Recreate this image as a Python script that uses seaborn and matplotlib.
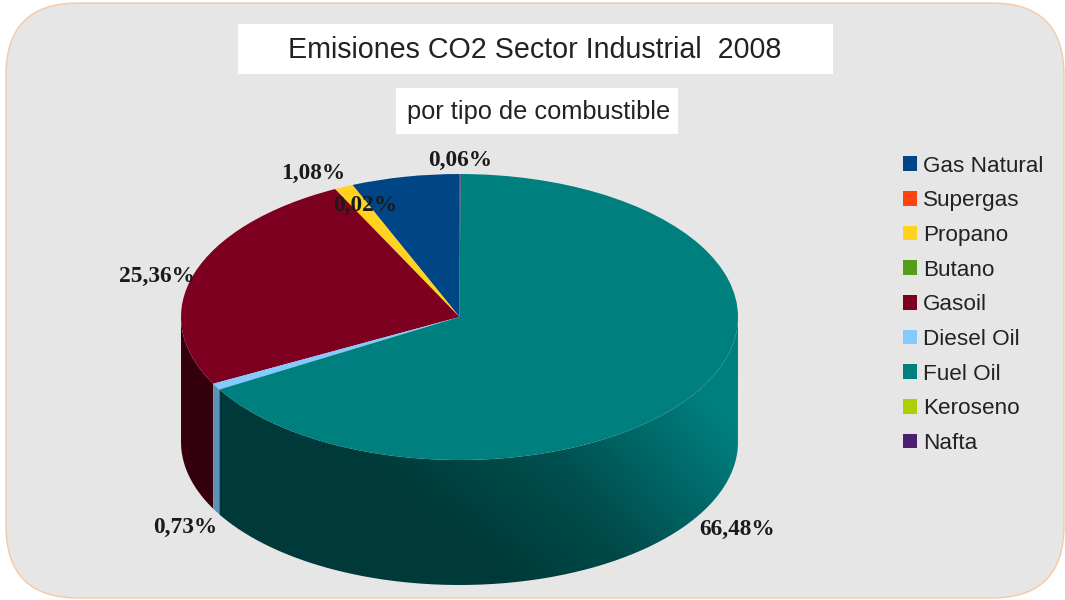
import numpy as np
import matplotlib
matplotlib.use("Agg")
import matplotlib.pyplot as plt
from matplotlib.patches import FancyBboxPatch, PathPatch, Rectangle
from matplotlib.path import Path
from matplotlib.colors import to_rgb
import seaborn as sns

# ---------- data ----------
categories = ["Gas Natural", "Supergas", "Propano", "Butano", "Gasoil",
              "Diesel Oil", "Fuel Oil", "Keroseno", "Nafta"]
values = [6.27, 0.02, 1.08, 0.0, 25.36, 0.73, 66.48, 0.0, 0.06]
palette = ["#004586", "#ff420e", "#ffd320", "#579d1c", "#7e0021",
           "#83caff", "#007f7f", "#aecf00", "#4b1f6f"]
side_floor = [0.45, 0.45, 0.45, 0.45, 0.42, 0.72, 0.45, 0.45, 0.45]
title = "Emisiones CO2 Sector Industrial  2008"
subtitle = "por tipo de combustible"
pct_labels = ["0,06%", "1,08%", "0,02%", "25,36%", "0,73%", "66,48%"]
pct_x = [460, 313, 365, 157, 185, 737]
pct_y = [160.5, 173, 205, 276.5, 527.5, 529.5]

# ---------- layout (pixels) ----------
W, H = 1065, 600
CX, CY, RX, RY, DEPTH = 459.5, 317.0, 278.5, 143.0, 125.0

sns.set_theme(style="white")
plt.rcParams["font.family"] = ["Liberation Sans", "DejaVu Sans"]
colors = sns.color_palette(palette)

fig = plt.figure(figsize=(W / 100, H / 100), dpi=100, facecolor="white")


def pixel_axes(z):
    a = fig.add_axes([0, 0, 1, 1], zorder=z)
    a.set_xlim(0, W)
    a.set_ylim(H, 0)
    a.axis("off")
    return a


bg = pixel_axes(0)
bg.add_patch(FancyBboxPatch((6 + 72, 3 + 72), W - 1 - 6 - 144, 595 - 144,
                            boxstyle="round,pad=72,rounding_size=72",
                            fc="#e6e6e6", ec="#f6c9a2", lw=1.0))
bg.add_patch(Rectangle((238, 24), 595, 50, fc="white", ec="none"))
bg.add_patch(Rectangle((396, 88), 282, 46, fc="white", ec="none"))
bg.text(535, 50, title, ha="center", va="center", fontsize=20.6, color="#222222")
bg.text(539, 112, subtitle, ha="center", va="center", fontsize=18.3, color="#222222")

# ---------- pie: unit circle stretched to the ellipse ----------
ax = fig.add_axes([0, 0, 1, 1], zorder=1)
ax.patch.set_alpha(0)
wedges, _ = ax.pie(values, colors=colors, startangle=90, counterclock=True,
                   radius=1.0, wedgeprops={"linewidth": 0})
for w in wedges:
    w.set_zorder(5)
depth = DEPTH / RY

gx, gy = np.meshgrid(np.linspace(-1.02, 1.02, 600), np.linspace(-1 - depth - .02, .02, 400))
shade = 0.695 + 0.25 * gx + 0.157 * gy
# brighten quickly towards the right-hand rim
shade = shade + 0.26 * np.clip(gx + gy * 0.35, 0, 1)

for w, col, floor in zip(wedges, colors, side_floor):
    lo, hi = max(w.theta1, 180), min(w.theta2, 360)
    if hi <= lo:
        continue
    t = np.radians(np.linspace(lo, hi, 240))
    xs = np.r_[np.cos(t), np.cos(t[::-1])]
    ys = np.r_[np.sin(t), np.sin(t[::-1]) - depth]
    clip = PathPatch(Path(np.c_[xs, ys]), transform=ax.transData, fc="none", ec="none")
    ax.add_patch(clip)
    s = np.clip(shade, floor, 1.0)[..., None]
    img = ax.imshow(s * np.array(to_rgb(col)), origin="lower", aspect="auto",
                    extent=(-1.02, 1.02, -1 - depth - .02, .02), zorder=2,
                    interpolation="bilinear")
    img.set_clip_path(clip)

ax.set_aspect("auto")
ax.set_xlim((0 - CX) / RX, (W - CX) / RX)
ax.set_ylim((CY - H) / RY, CY / RY)
ax.axis("off")

# ---------- labels and legend ----------
top = pixel_axes(2)
for lab, x, y in zip(pct_labels, pct_x, pct_y):
    top.text(x, y, lab, ha="center", va="center", fontsize=16.8, fontweight="bold",
             family=["Liberation Serif", "DejaVu Serif"], color="#1a1a1a")

fs = 16.2
fpx = fs * 100 / 72
leg = top.legend(wedges, categories, loc="upper left",
                 bbox_to_anchor=(903, 155.5), bbox_transform=top.transData,
                 frameon=False, fontsize=fs, labelcolor="#222222",
                 handlelength=14 / fpx, handleheight=14 / fpx,
                 handletextpad=6 / fpx, labelspacing=(35.6 - 21.9) / fpx,
                 borderpad=0, borderaxespad=0)
for h in leg.get_patches():
    h.set_linewidth(0)

fig.savefig("out.png", dpi=100, facecolor="white")
